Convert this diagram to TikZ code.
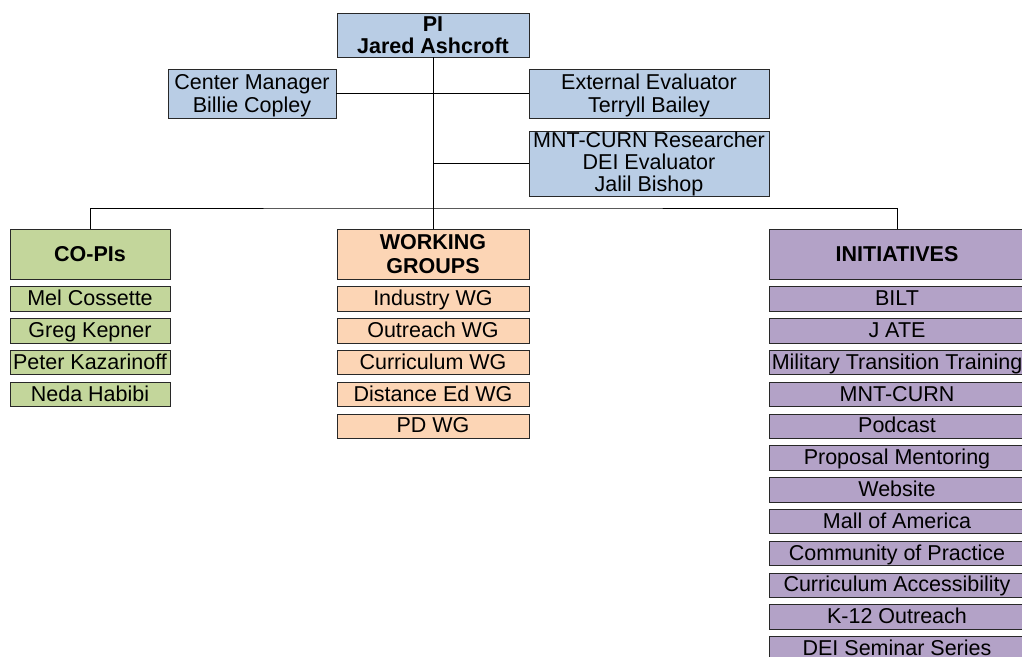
\documentclass[tikz,border=0pt]{standalone}
\usepackage{fontspec}
\setmainfont{Liberation Sans}
\definecolor{cblue}{RGB}{185,205,229}
\definecolor{cgreen}{RGB}{195,214,155}
\definecolor{cpeach}{RGB}{252,213,181}
\definecolor{cpurple}{RGB}{179,162,199}
\definecolor{cborder}{RGB}{40,40,40}
\newcommand\topstrut{\rule{0pt}{19pt}}
\tikzset{
  orgbox/.style={draw=cborder, line width=0.9pt, inner sep=0pt, align=center,
    font=\fontsize{21.5}{22.5}\selectfont},
  headbox/.style={orgbox, font=\fontsize{21.5}{24}\selectfont\bfseries},
  bluebox/.style={orgbox, fill=cblue},
  itembox/.style={orgbox, minimum height=24.5pt, text height=16.5pt, text depth=3.3pt},
  greenbox/.style={itembox, fill=cgreen, minimum width=160pt},
  peachbox/.style={itembox, fill=cpeach, minimum width=192pt},
  purplebox/.style={itembox, fill=cpurple, minimum width=256pt},
  conn/.style={draw=black, line width=0.9pt}
}
\begin{document}
\begin{tikzpicture}[x=1pt,y=-1pt]
\useasboundingbox (0,0) rectangle (1022,656);
% top
\node[headbox, fill=cblue, minimum width=192pt, minimum height=44pt, font=\fontsize{21.5}{22.5}\selectfont\bfseries] (pi) at (433,35) {PI\\Jared Ashcroft};
\node[bluebox, minimum width=168pt, minimum height=49pt] (cm) at (252,93.5) {\topstrut Center Manager\\Billie Copley};
\node[bluebox, minimum width=240pt, minimum height=49pt] (ee) at (649,93.5) {\topstrut External Evaluator\\Terryll Bailey};
\node[bluebox, minimum width=240pt, minimum height=65pt, font=\fontsize{21.5}{22}\selectfont] (mnt) at (649,163.5) {MNT-CURN Researcher\\DEI Evaluator\\Jalil Bishop};
\coordinate (j) at (433,208);
% headers
\node[headbox, fill=cgreen, minimum width=160pt, minimum height=50pt] (co) at (90,254) {CO-PIs};
\node[headbox, fill=cpeach, minimum width=192pt, minimum height=50pt] (wg) at (433,254) {WORKING\\GROUPS};
\node[headbox, fill=cpurple, minimum width=256pt, minimum height=50pt] (ini) at (897,254) {INITIATIVES};
% connectors
\draw[conn] (pi.south) -- (j);
\draw[conn] (cm.east) -- (ee.west);
\draw[conn] (mnt.west) -- (mnt.west -| pi.south);
\draw[conn] (co.north) |- (j) -| (ini.north);
\draw[conn] (j) -- (wg.north);
% CO-PIs
\node[greenbox] (c1) at (90,299) {Mel Cossette};
\node[greenbox] (c2) at (90,330.8) {Greg Kepner};
\node[greenbox] (c3) at (90,362.6) {Peter Kazarinoff};
\node[greenbox] (c4) at (90,394.4) {Neda Habibi};
% WGs
\node[peachbox] (w1) at (433,299) {Industry WG};
\node[peachbox] (w2) at (433,330.8) {Outreach WG};
\node[peachbox] (w3) at (433,362.6) {Curriculum WG};
\node[peachbox] (w4) at (433,394.4) {Distance Ed WG};
\node[peachbox] (w5) at (433,426.2) {PD WG};
% Initiatives
\node[purplebox] (i1) at (897,299) {BILT};
\node[purplebox] (i2) at (897,330.8) {J ATE};
\node[purplebox] (i3) at (897,362.6) {Military Transition Training};
\node[purplebox] (i4) at (897,394.4) {MNT-CURN};
\node[purplebox] (i5) at (897,426.2) {Podcast};
\node[purplebox] (i6) at (897,458) {Proposal Mentoring};
\node[purplebox] (i7) at (897,489.8) {Website};
\node[purplebox] (i8) at (897,521.6) {Mall of America};
\node[purplebox] (i9) at (897,553.4) {Community of Practice};
\node[purplebox] (i10) at (897,585.2) {Curriculum Accessibility};
\node[purplebox] (i11) at (897,617) {K-12 Outreach};
\node[purplebox] (i12) at (897,648.8) {DEI Seminar Series};
\end{tikzpicture}
\end{document}
